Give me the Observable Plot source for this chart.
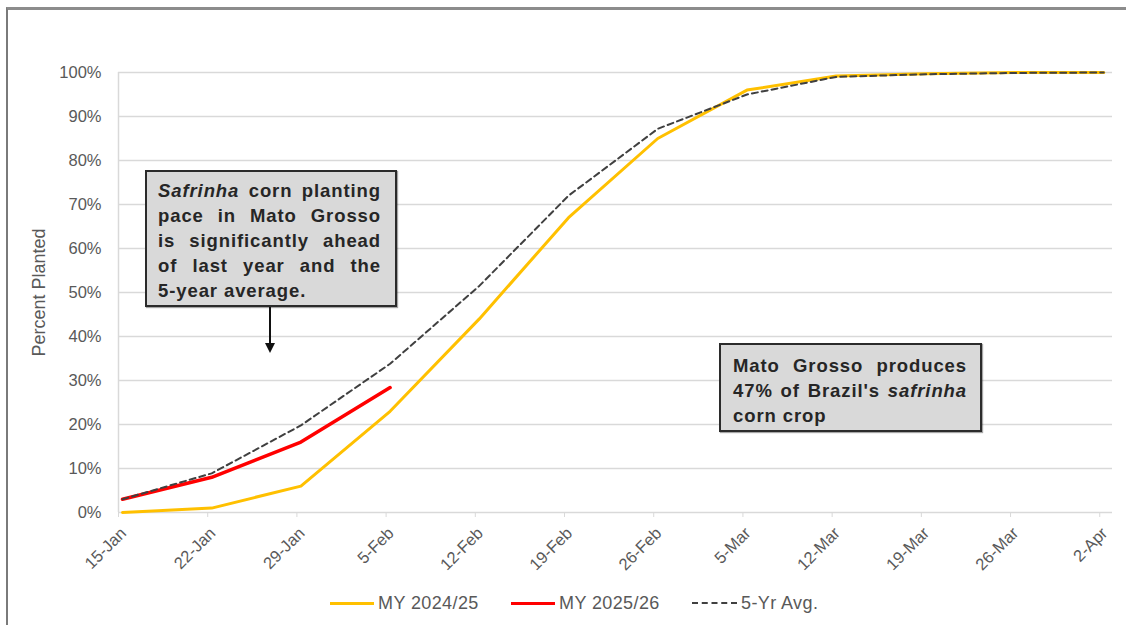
<!DOCTYPE html>
<html><head><meta charset="utf-8">
<script src="https://cdn.jsdelivr.net/npm/d3@7"></script>
<script src="https://cdn.jsdelivr.net/npm/@observablehq/plot@0.6"></script>
<style>
body{margin:0;background:#fff;font-family:"Liberation Sans",Arial,sans-serif;}
#wrap{position:relative;width:1126px;height:625px;overflow:hidden;background:#fff;}
#frame{position:absolute;left:6px;top:7px;width:1140px;height:640px;border-top:3px solid #8c8c8c;border-left:2px solid #7a7a7a;box-sizing:border-box;}
#chart{position:absolute;left:0;top:0;}
.note{position:absolute;background:#d9d9d9;border:2px solid #2b2b2b;box-sizing:border-box;font-weight:bold;font-size:18.5px;letter-spacing:0.9px;color:#262626;line-height:25px;box-shadow:1px 1px 1px rgba(0,0,0,0.35);}
.note .j{text-align:justify;text-align-last:justify;}
.note .l{text-align:left;}
#legend{position:absolute;left:0;top:591px;width:1126px;height:24px;font-size:18px;letter-spacing:0.4px;color:#595959;}
.lg{position:absolute;top:0;height:24px;display:flex;align-items:center;}
.sw{display:inline-block;width:44px;height:0;margin-right:4px;}
#arrow{position:absolute;left:0;top:0;}
</style>
</head><body>
<div id="wrap">
  <div id="frame"></div>
  <div id="chart"></div>
  <div class="note" style="left:145px;top:170px;width:252px;height:137px;padding:6px 14px 0 11px;">
    <div class="j"><i>Safrinha</i> corn planting</div>
    <div class="j">pace in Mato Grosso</div>
    <div class="j">is significantly ahead</div>
    <div class="j">of last year and the</div>
    <div class="l">5-year average.</div>
  </div>
  <svg id="arrow" width="1126" height="625" style="pointer-events:none">
    <line x1="270" y1="307" x2="270" y2="345" stroke="#111" stroke-width="2"/>
    <path d="M265,343 L275,343 L270,353 Z" fill="#111"/>
  </svg>
  <div class="note" style="left:719px;top:343px;width:263px;height:89px;padding:8px 13px 0 12px;">
    <div class="j">Mato Grosso produces</div>
    <div class="j">47% of Brazil's <i>safrinha</i></div>
    <div class="l">corn crop</div>
  </div>
  <div id="legend">
    <div class="lg" style="left:330px"><span class="sw" style="border-top:3px solid #FFC000"></span>MY 2024/25</div>
    <div class="lg" style="left:511px"><span class="sw" style="border-top:3.5px solid #FF0000"></span>MY 2025/26</div>
    <div class="lg" style="left:692px"><span class="sw" style="border-top:2px dashed #404040;width:45px"></span>5-Yr Avg.</div>
  </div>
</div>
<script>
// ---- data ----
const dates = ["2026-01-15","2026-01-22","2026-01-29","2026-02-05","2026-02-12","2026-02-19","2026-02-26","2026-03-05","2026-03-12","2026-03-19","2026-03-26","2026-04-02"];
const my2425 = [0, 1, 6, 23, 44, 67, 85, 96, 99.2, 99.7, 100, 100];
const my2526 = [3, 8, 16, 28.4];
const avg5yr = [3, 8.9, 19.8, 33.8, 51.5, 72, 87.2, 95, 99, 99.6, 99.9, 100];
const yTicks = [0,10,20,30,40,50,60,70,80,90,100];
const seriesNames = ["MY 2024/25","MY 2025/26","5-Yr Avg."];

const parse = d3.utcParse("%Y-%m-%d");
const D = dates.map(parse);
const s1 = my2425.map((v,i)=>({date:D[i], value:v}));
const s2 = my2526.map((v,i)=>({date:D[i], value:v}));
const s3 = avg5yr.map((v,i)=>({date:D[i], value:v}));
const fmt = d3.utcFormat("%-d-%b");

const chart = Plot.plot({
  width: 1126,
  height: 580,
  marginLeft: 118,
  marginRight: 14,
  marginTop: 72,
  marginBottom: 68,
  style: {fontFamily: '"Liberation Sans", Arial, sans-serif', fontSize: "16px", color: "#595959", background: "transparent", overflow: "visible"},
  x: {type: "utc", domain: [D[0], d3.utcDay.offset(D[D.length-1], 1)]},
  y: {domain: [0, 100]},
  marks: [
    Plot.ruleY(yTicks, {stroke: "#d9d9d9", strokeWidth: 1.5}),
    Plot.ruleX([D[0]], {y1: 0, y2: 100, stroke: "#d9d9d9", strokeWidth: 1.5}),
    Plot.axisX({ticks: D, tickFormat: () => "", tickSize: 5, stroke: "#d9d9d9", label: null}),
    Plot.axisX({ticks: D, tickFormat: fmt, tickRotate: -45, tickSize: 0, tickPadding: 18, fill: "#595959", fontSize: 16.5, label: null, dx: 5}),
    Plot.axisY({ticks: yTicks, tickFormat: d => d + "%", tickSize: 0, tickPadding: 17, fill: "#595959", fontSize: 16.5,
      label: "Percent Planted", labelAnchor: "center", labelArrow: "none", labelOffset: 86}),
    Plot.line(s1, {x: "date", y: "value", stroke: "#FFC000", strokeWidth: 3, dx: 4}),
    Plot.line(s2, {x: "date", y: "value", stroke: "#FF0000", strokeWidth: 3.5, dx: 4}),
    Plot.line(s3, {x: "date", y: "value", stroke: "#404040", strokeWidth: 2, strokeDasharray: "6,4", dx: 4})
  ]
});
chart.querySelectorAll("text").forEach(t => { if (t.textContent === "Percent Planted") t.style.fontSize = "18px"; });
document.getElementById("chart").appendChild(chart);
</script>
</body></html>
